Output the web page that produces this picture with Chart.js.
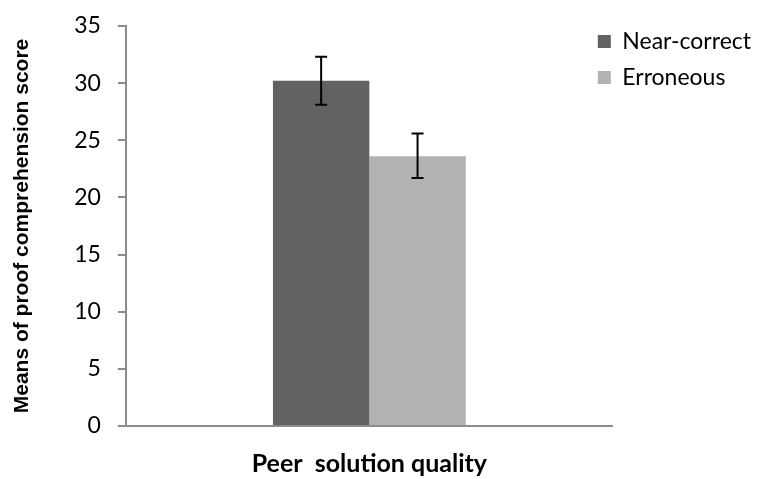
<!DOCTYPE html>
<html lang="en">
<head>
    <meta charset="UTF-8">
    <title>Proof comprehension by peer solution quality</title>
    <script src="https://cdn.jsdelivr.net/npm/chart.js"></script>
    <style>
        body { margin: 0; padding: 0; background-color: white; }
        .chart-container { width: 761px; height: 479px; }
    </style>
</head>
<body>
    <div class="chart-container">
        <canvas id="qualityChart"></canvas>
    </div>

    <script>
        const categories = [''];
        const seriesNames = ['Near-correct', 'Erroneous'];
        const nearCorrect = [30.2];
        const erroneous = [23.6];
        const nearCorrectErr = [[28.1, 32.3]];
        const erroneousErr = [[21.7, 25.6]];
        const yTicks = [0, 5, 10, 15, 20, 25, 30, 35];

        // draws the error bars at each bar's x, using the y scale
        const errorBarPlugin = {
            id: 'errorBars',
            afterDatasetsDraw(chart) {
                const ctx = chart.ctx;
                const yScale = chart.scales.y;
                chart.data.datasets.forEach((ds, i) => {
                    const meta = chart.getDatasetMeta(i);
                    meta.data.forEach((bar, j) => {
                        const range = ds.errors[j];
                        const yLow = yScale.getPixelForValue(range[0]);
                        const yHigh = yScale.getPixelForValue(range[1]);
                        ctx.save();
                        ctx.strokeStyle = '#000';
                        ctx.lineWidth = 2;
                        ctx.beginPath();
                        ctx.moveTo(bar.x, yLow);
                        ctx.lineTo(bar.x, yHigh);
                        ctx.moveTo(bar.x - 6, yLow);
                        ctx.lineTo(bar.x + 6, yLow);
                        ctx.moveTo(bar.x - 6, yHigh);
                        ctx.lineTo(bar.x + 6, yHigh);
                        ctx.stroke();
                        ctx.restore();
                    });
                });
            }
        };

        // legend overlaps the plot area a bit, like the original
        const legendShift = 28;
        const legendOverlapPlugin = {
            id: 'legendOverlap',
            beforeLayout(chart) {
                const lg = chart.legend;
                if (lg && !lg._patched) {
                    const fit = lg.fit.bind(lg);
                    lg.fit = function () { fit(); this.width -= legendShift; };
                    lg._patched = true;
                }
            },
            afterLayout(chart) {
                const lg = chart.legend;
                if (!lg) return;
                lg.left -= legendShift;
                lg.width += legendShift;
                lg.top -= 9;
                lg.bottom -= 9;
            }
        };

        const ctx = document.getElementById('qualityChart').getContext('2d');
        new Chart(ctx, {
            type: 'bar',
            data: {
                labels: categories,
                datasets: [{
                    label: seriesNames[0],
                    data: nearCorrect,
                    errors: nearCorrectErr,
                    backgroundColor: '#626262'
                }, {
                    label: seriesNames[1],
                    data: erroneous,
                    errors: erroneousErr,
                    backgroundColor: '#b2b2b2'
                }]
            },
            options: {
                responsive: true,
                maintainAspectRatio: false,
                animation: false,
                layout: { padding: { top: 26, left: 6, bottom: 0 } },
                datasets: {
                    bar: { categoryPercentage: 0.396, barPercentage: 1.0 }
                },
                plugins: {
                    legend: {
                        position: 'right',
                        align: 'start',
                        labels: {
                            boxWidth: 13,
                            boxHeight: 13,
                            padding: 13,
                            color: '#000',
                            font: { family: 'Lato, Arial, sans-serif', size: 23 }
                        }
                    },
                    tooltip: { enabled: false }
                },
                scales: {
                    x: {
                        grid: { display: false },
                        border: { color: '#8c8c8c', width: 2 },
                        ticks: { display: false },
                        title: {
                            display: true,
                            text: 'Peer  solution quality',
                            color: '#000',
                            font: { family: 'Lato, Arial, sans-serif', size: 25, weight: 'bold' },
                            padding: { top: 15, bottom: 0 }
                        }
                    },
                    y: {
                        min: 0,
                        max: 35,
                        afterBuildTicks: axis => { axis.ticks = yTicks.map(v => ({ value: v })); },
                        // the wide tick padding should not push the plot down
                        afterFit: axis => { axis.paddingTop = 8; axis.paddingBottom = 8; },
                        grid: { drawOnChartArea: false, tickLength: 8, color: '#8c8c8c', lineWidth: 2 },
                        border: { color: '#8c8c8c', width: 2 },
                        ticks: {
                            color: '#000',
                            padding: 17,
                            font: { family: 'Lato, Arial, sans-serif', size: 23 }
                        },
                        title: {
                            display: true,
                            text: 'Means of proof comprehension score',
                            color: '#000',
                            font: { family: '"Liberation Sans", Arial, sans-serif', size: 21, weight: 'bold' },
                            padding: { bottom: 22 }
                        }
                    }
                }
            },
            plugins: [errorBarPlugin, legendOverlapPlugin]
        });
    </script>
</body>
</html>
